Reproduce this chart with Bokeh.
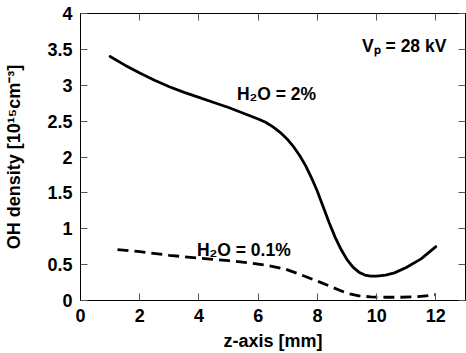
from bokeh.plotting import figure
from bokeh.models import Range1d, LinearAxis, FixedTicker, Label
from bokeh.embed import file_html
from bokeh.resources import INLINE

# ---- data ----
z_h2o_2 = [1.0, 1.5, 2.0, 2.5, 3.0, 3.5, 4.0, 4.5, 5.0, 5.5, 6.0, 6.25, 6.5,
           6.75, 7.0, 7.2, 7.4, 7.6, 7.8, 8.0, 8.2, 8.4, 8.6, 8.8, 9.0, 9.2,
           9.4, 9.6, 9.8, 10.0, 10.3, 10.6, 11.0, 11.5, 12.0]
oh_h2o_2 = [3.40, 3.28, 3.17, 3.07, 2.98, 2.90, 2.83, 2.76, 2.69, 2.61, 2.53,
            2.485, 2.42, 2.34, 2.24, 2.14, 2.02, 1.88, 1.71, 1.52, 1.30, 1.08,
            0.88, 0.71, 0.57, 0.465, 0.395, 0.355, 0.34, 0.34, 0.355, 0.385,
            0.46, 0.58, 0.75]

z_h2o_01 = [1.25, 2.0, 3.0, 4.0, 5.0, 5.7, 6.3, 6.9, 7.4, 8.0, 8.5, 9.0, 9.4,
            9.8, 10.3, 10.8, 11.4, 12.0]
oh_h2o_01 = [0.71, 0.68, 0.63, 0.59, 0.555, 0.525, 0.49, 0.44, 0.365, 0.27, 0.185,
             0.10, 0.065, 0.05, 0.045, 0.045, 0.055, 0.08]

x_ticks = [0, 2, 4, 6, 8, 10, 12]
y_ticks = [0, 0.5, 1, 1.5, 2, 2.5, 3, 3.5, 4]
y_tick_labels = ["0", "0.5", "1", "1.5", "2", "2.5", "3", "3.5", "4"]

x_title = "z-axis [mm]"
y_title = "OH density [10¹⁵cm⁻³]"
label_vp = "Vₚ = 28 kV"
label_2 = "H₂O = 2%"
label_01 = "H₂O = 0.1%"

FONT = "Liberation Sans"
MAIN = "18px"
NOTE = "17.5px"

p = figure(width=466, height=353, output_backend="svg", toolbar_location=None,
           x_range=Range1d(0, 13), y_range=Range1d(0, 4),
           min_border_left=80, min_border_right=1, min_border_top=13,
           min_border_bottom=52, x_axis_label=x_title, y_axis_label=y_title)
p.grid.visible = False
p.outline_line_color = "black"
p.outline_line_width = 1
p.background_fill_color = "white"
p.border_fill_color = "white"


def style_axis(ax, ticks, hide_labels=False):
    ax.ticker = FixedTicker(ticks=ticks)
    ax.major_tick_in = 7
    ax.major_tick_out = 0
    ax.major_tick_line_color = "#555555"
    ax.minor_tick_line_color = None
    ax.axis_line_color = "black"
    ax.major_label_text_font = FONT
    ax.major_label_text_font_style = "bold"
    ax.major_label_text_color = "black"
    ax.axis_label_text_font = FONT
    ax.axis_label_text_font_style = "bold"
    ax.axis_label_text_font_size = MAIN
    ax.axis_label_text_color = "black"
    if hide_labels:
        ax.major_label_text_font_size = "0px"
        ax.major_label_standoff = 0
    else:
        ax.major_label_text_font_size = MAIN


xa = p.xaxis[0]
style_axis(xa, x_ticks)
xa.major_label_standoff = 8
xa.axis_label_standoff = 6

ya = p.yaxis[0]
style_axis(ya, y_ticks)
ya.major_label_standoff = 8
ya.axis_label_standoff = 20
ya.major_label_overrides = {t: s for t, s in zip(y_ticks, y_tick_labels)}

top = LinearAxis()
style_axis(top, x_ticks, hide_labels=True)
p.add_layout(top, "above")
right = LinearAxis()
style_axis(right, y_ticks, hide_labels=True)
p.add_layout(right, "right")

p.line(z_h2o_2, oh_h2o_2, line_color="black", line_width=2.8,
       line_join="round", line_cap="round")
p.line(z_h2o_01, oh_h2o_01, line_color="black", line_width=2.8, line_dash="11 6",
       line_join="round")


def lab(x, y, text):
    p.add_layout(Label(x=x, y=y, text=text, text_font=FONT, text_font_style="bold",
                       text_font_size=NOTE, text_color="black",
                       text_align="left", text_baseline="alphabetic"))


lab(9.506, 3.542, label_vp)
lab(5.281, 2.885, label_2)
lab(3.930, 0.70, label_01)

open("out.html", "w").write(file_html(p, INLINE))
